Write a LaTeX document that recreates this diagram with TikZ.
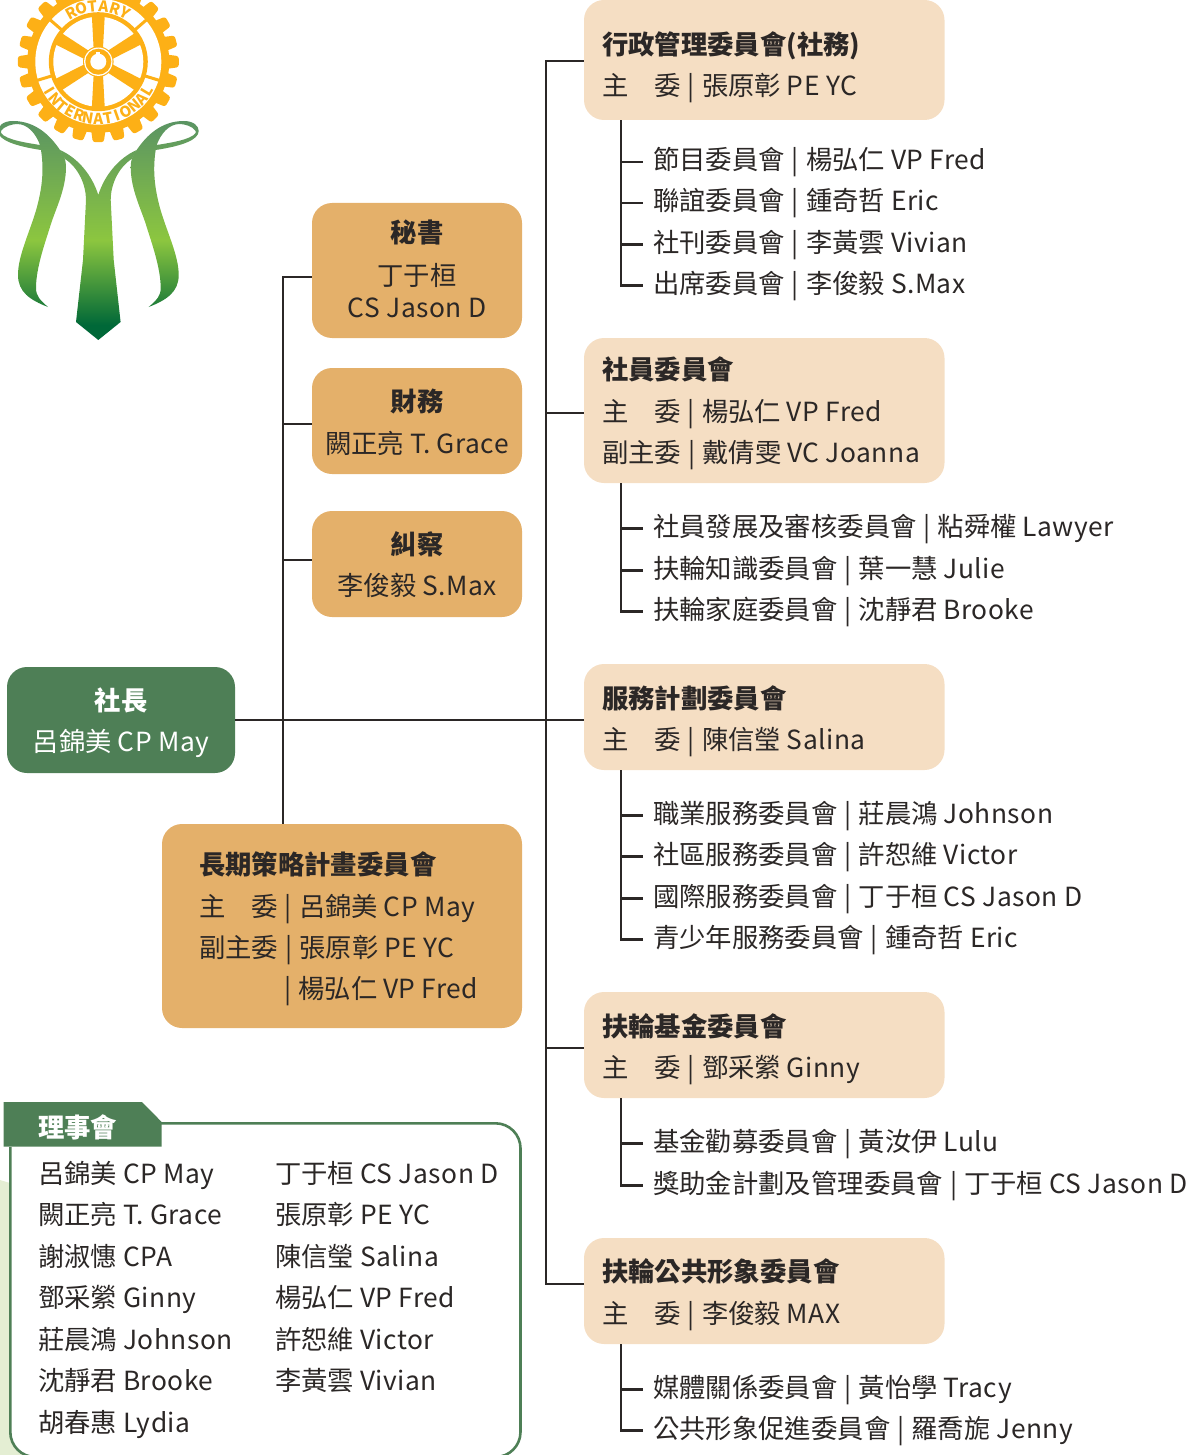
\documentclass[tikz,border=0pt]{standalone}
\usepackage{fontspec}
\setmainfont[WordSpace=1.0]{Noto Sans CJK TC}
\newfontfamily\latfont[LetterSpace=1.9,WordSpace=1.0]{Noto Sans CJK TC}
\newcommand{\lat}[1]{{\latfont #1}}
\newcommand{\sep}{\hspace{7pt}|\hspace{7pt}}
\usetikzlibrary{positioning}
\definecolor{lightbox}{HTML}{F5DEC3}
\definecolor{darkbox}{HTML}{E4B06A}
\definecolor{rotgreen}{HTML}{4E7F56}
\definecolor{wheel}{HTML}{FDB016}
\definecolor{ink}{HTML}{2B2726}
\definecolor{paleleaf}{HTML}{E4EED3}
\definecolor{rbtop}{HTML}{5A9463}
\definecolor{rbmid}{HTML}{8CC63F}
\definecolor{rbend}{HTML}{006838}
\pgfdeclareverticalshading{ribbon}{100bp}{color(0bp)=(rbend); color(28.4bp)=(rbend); color(47.8bp)=(rbmid); color(75bp)=(rbtop); color(100bp)=(rbtop)}
\tikzset{
  txt/.style={font=\fontsize{26.35}{30}\selectfont,text=ink,inner sep=0pt,anchor=base west},
  head/.style={txt,font=\fontsize{26.35}{30}\selectfont\bfseries},
  panel/.style={rounded corners=20pt,inner sep=0pt,minimum width=#1},
  lightpanel/.style={panel=360.5pt,fill=lightbox},
  darkpanel/.style={panel=210pt,fill=darkbox},
  branch/.style={draw=ink,line width=2.3pt},
  letter/.style={font=\fontsize{15}{15}\selectfont\bfseries,text=wheel,inner sep=0pt},
}
\begin{document}
\begin{tikzpicture}[x=1pt,y=-1pt]
\useasboundingbox (0,0) rectangle (1193,1455);
% board frame
\fill[paleleaf] (0,1180) -- (10,1183) -- (10,1432) arc[start angle=180,end angle=90,radius=25] -- (0,1457) -- cycle;
\draw[rotgreen,line width=2.6pt,rounded corners=25pt] (10.3,1147) -- (10.3,1457) -- (520.5,1457) -- (520.5,1123.3) -- (150,1123.3);
\fill[rotgreen] (3.5,1102) -- (142,1102) -- (161.7,1122) -- (161.7,1146.7) -- (3.5,1146.7) -- cycle;
% boxes
\node[lightpanel,minimum height=120pt] (adm) at (764.25,60) {};
\node[lightpanel,minimum height=145pt] (mem) at (764.25,410.5) {};
\node[lightpanel,minimum height=106pt] (svc) at (764.25,717) {};
\node[lightpanel,minimum height=106pt] (fund) at (764.25,1045) {};
\node[lightpanel,minimum height=106pt] (pub) at (764.25,1291) {};
\node[darkpanel,minimum height=135pt] (sec) at (417,270.5) {};
\node[darkpanel,minimum height=106pt] (tre) at (417,421) {};
\node[darkpanel,minimum height=106pt] (sgt) at (417,564) {};
\node[darkpanel,minimum width=360pt,minimum height=204pt] (lng) at (342,926) {};
\node[panel=228pt,fill=rotgreen,minimum height=106pt] (pres) at (121,720) {};
% main connectors
\coordinate (trunkA) at (283,277);
\coordinate (trunkB) at (546,61);
\coordinate (stem) at (621,0);
\draw[branch] (pres.east) -- (pres.east -| svc.west);
\draw[branch] (sec.west |- trunkA) -- (trunkA) -- (lng.north -| trunkA);
\draw[branch] (tre.west) ++(0,3) -- ++(-29,0);
\draw[branch] (sgt.west) ++(0,-4) -- ++(-29,0);
\draw[branch] (adm.west |- trunkB) -- (trunkB) |- (pub.west |- 0,1284);
\draw[branch] (mem.west |- 0,413) -- (trunkB |- 0,413);
\draw[branch] (fund.west |- 0,1048) -- (trunkB |- 0,1048);
% president and officers
\node[txt,anchor=base,text=white,font=\fontsize{26.35}{30}\selectfont\bfseries] (presA) at (121,710) {社長};
\node[txt,anchor=base,text=white] (presB) at (121,751) {呂錦美 \lat{CP May}};
\node[head,anchor=base] (secA) at (417,243) {秘書};
\node[txt,anchor=base] (secB) at (417,285) {丁于桓};
\node[txt,anchor=base] (secC) at (417,317) {\lat{CS Jason D}};
\node[head,anchor=base] (treA) at (417,411) {財務};
\node[txt,anchor=base] (treB) at (417,453) {闕正亮 \lat{T. Grace}};
\node[head,anchor=base] (sgtA) at (417,554) {糾察};
\node[txt,anchor=base] (sgtB) at (417,595) {李俊毅 \lat{S.Max}};
% long range plan
\node[head] (lngA) at (199,874) {長期策略計畫委員會};
\node[txt] (lngB) at (199,916) {主\hspace{26pt}委\sep 呂錦美 \lat{CP May}};
\node[txt] (lngC) at (199,957) {副主委\sep 張原彰 \lat{PE YC}};
\node[txt] (lngD) at (284,998) {|\hspace{7pt}楊弘仁 \lat{VP Fred}};
% standing committees
\node[head] (admA) at (602,54.5) {行政管理委員會(社務)};
\node[txt] (admB) at (602,95.5) {主\hspace{26pt}委\sep 張原彰 \lat{PE YC}};
\node[txt] (admC) at (653,169.5) {節目委員會\sep 楊弘仁 \lat{VP Fred}};
\node[txt] (admD) at (653,210.5) {聯誼委員會\sep 鍾奇哲 \lat{Eric}};
\node[txt] (admE) at (653,252) {社刊委員會\sep 李黃雲 \lat{Vivian}};
\node[txt] (admF) at (653,293) {出席委員會\sep 李俊毅 \lat{S.Max}};
\node[head] (memA) at (602,379) {社員委員會};
\node[txt] (memB) at (602,421) {主\hspace{26pt}委\sep 楊弘仁 \lat{VP Fred}};
\node[txt] (memC) at (602,462) {副主委\sep 戴倩雯 \lat{VC Joanna}};
\node[txt] (memD) at (653,536) {社員發展及審核委員會\sep 粘舜權 \lat{Lawyer}};
\node[txt] (memE) at (653,578) {扶輪知識委員會\sep 葉一慧 \lat{Julie}};
\node[txt] (memF) at (653,619) {扶輪家庭委員會\sep 沈靜君 \lat{Brooke}};
\node[head] (svcA) at (602,708) {服務計劃委員會};
\node[txt] (svcB) at (602,749) {主\hspace{26pt}委\sep 陳信瑩 \lat{Salina}};
\node[txt] (svcC) at (653,823) {職業服務委員會\sep 莊晨鴻 \lat{Johnson}};
\node[txt] (svcD) at (653,864) {社區服務委員會\sep 許恕維 \lat{Victor}};
\node[txt] (svcE) at (653,906) {國際服務委員會\sep 丁于桓 \lat{CS Jason D}};
\node[txt] (svcF) at (653,947) {青少年服務委員會\sep 鍾奇哲 \lat{Eric}};
\node[head] (fundA) at (602,1036) {扶輪基金委員會};
\node[txt] (fundB) at (602,1077) {主\hspace{26pt}委\sep 鄧采縈 \lat{Ginny}};
\node[txt] (fundC) at (653,1151) {基金勸募委員會\sep 黃汝伊 \lat{Lulu}};
\node[txt] (fundD) at (653,1193) {獎助金計劃及管理委員會\sep 丁于桓 \lat{CS Jason D}};
\node[head] (pubA) at (602,1281) {扶輪公共形象委員會};
\node[txt] (pubB) at (602,1323) {主\hspace{26pt}委\sep 李俊毅 \lat{MAX}};
\node[txt] (pubC) at (653,1397) {媒體關係委員會\sep 黃怡學 \lat{Tracy}};
\node[txt] (pubD) at (653,1438) {公共形象促進委員會\sep 羅喬旎 \lat{Jenny}};
% sub committee branches
\foreach \bx/\last/\rows in {adm/admF/{admC,admD,admE},mem/memF/{memD,memE},svc/svcF/{svcC,svcD,svcE},fund/fundD/{fundC},pub/pubD/{pubC}}{
  \draw[branch] (\bx.south -| stem) |- ([xshift=-10pt]\last.west);
  \foreach \r in \rows { \draw[branch] (stem |- \r.west) -- ([xshift=-10pt]\r.west); }
}
% board
\node[head,text=white] (brdT) at (38,1137) {理事會};
\node[txt] (brdA) at (38,1183) {呂錦美 \lat{CP May}};
\node[txt] (brdB) at (38,1224) {闕正亮 \lat{T. Grace}};
\node[txt] (brdC) at (38,1266) {謝淑憓 \lat{CPA}};
\node[txt] (brdD) at (38,1307) {鄧采縈 \lat{Ginny}};
\node[txt] (brdE) at (38,1349) {莊晨鴻 \lat{Johnson}};
\node[txt] (brdF) at (38,1390) {沈靜君 \lat{Brooke}};
\node[txt] (brdG) at (38,1432) {胡春惠 \lat{Lydia}};
\node[txt] (brdH) at (275,1183) {丁于桓 \lat{CS Jason D}};
\node[txt] (brdI) at (275,1224) {張原彰 \lat{PE YC}};
\node[txt] (brdJ) at (275,1266) {陳信瑩 \lat{Salina}};
\node[txt] (brdK) at (275,1307) {楊弘仁 \lat{VP Fred}};
\node[txt] (brdL) at (275,1349) {許恕維 \lat{Victor}};
\node[txt] (brdM) at (275,1390) {李黃雲 \lat{Vivian}};
% wheel
\begin{scope}[shift={(98.3,61.7)}]
  \foreach \a in {0,15,...,345}{
    \fill[wheel,rotate=\a,rounded corners=2.5pt] (-7.5,-66) -- (-5.5,-80.5) -- (5.5,-80.5) -- (7.5,-66) -- cycle;
  }
  \fill[wheel] (0,0) circle[radius=71];
  \fill[white] (0,0) circle[radius=63];
  \fill[wheel] (0,0) circle[radius=49.5];
  \fill[white] (0,0) circle[radius=45];
  \foreach \a in {0,60,...,300}{
    \fill[wheel,rotate=\a] (-6.5,-47) -- (6.5,-47) -- (4.5,-10) -- (-4.5,-10) -- cycle;
  }
  \foreach \a in {-49,49,-107,107}{
    \fill[wheel,rotate=\a] (-1.5,-64) rectangle (1.5,-48);
  }
  \fill[wheel] (0,0) circle[radius=15.3];
  \fill[white] (0,0) circle[radius=14.2];
  \fill[wheel] (0,0) circle[radius=13];
  \fill[white] (0,0) circle[radius=8];
  \fill[white] (-2,-10) rectangle (2,-6);
  \foreach \c [count=\i] in {R,O,T,A,R,Y}{
    \pgfmathsetmacro{\th}{-29+11.6*(\i-1)}
    \node[letter,rotate=-\th] (top\i) at ({56*sin(\th)},{-56*cos(\th)}) {\c};
  }
  \foreach \c [count=\i] in {I,N,T,E,R,N,A,T,I,O,N,A,L}{
    \pgfmathsetmacro{\th}{-59+9.83*(\i-1)}
    \node[letter,rotate=\th] (bot\i) at ({57*sin(\th)},{57*cos(\th)}) {\c};
  }
\end{scope}
% ribbon
\foreach \m in {1,-1}{
  \begin{scope}[even odd rule,shift={(98.35,0)},xscale=\m,shift={(-98.35,0)}]
    \clip (60,150) .. controls (50,135) and (35,121) .. (13,121)
      .. controls (3,121) and (-2,126) .. (-2,131) .. controls (-2,140) and (15,146) .. (41,150)
      .. controls (45,175) and (40,195) .. (37,207) .. controls (30,232) and (18,255) .. (18,275)
      .. controls (18,292) and (30,300) .. (48,307) .. controls (40,300) and (36,296) .. (36,288)
      .. controls (36,268) and (45,243) .. (50,227) .. controls (55,210) and (66,190) .. (66,167)
      .. controls (66,160) and (64,155) .. (60,150) -- cycle
      (1,131) .. controls (4,126) and (13,124) .. (17,124) .. controls (28,124) and (36,134) .. (40,145)
      .. controls (28,143) and (6,140) .. (1,133) -- cycle;
    \shade[shading=ribbon] (-5,121) rectangle (202,340);
  \end{scope}
}
\begin{scope}
  \clip (60,150) .. controls (78,158) and (92,175) .. (98.3,195) .. controls (104.6,175) and (118.7,158) .. (136.7,150)
    -- (131.7,159) .. controls (118,168) and (110.7,185) .. (110.7,200) -- (113.7,260) -- (120.6,322) -- (98.3,340)
    -- (76,322) -- (83,260) -- (86,200) .. controls (86,185) and (78.7,168) .. (65,159) -- cycle;
  \shade[shading=ribbon] (0,121) rectangle (197,340);
\end{scope}
\end{tikzpicture}
\end{document}
